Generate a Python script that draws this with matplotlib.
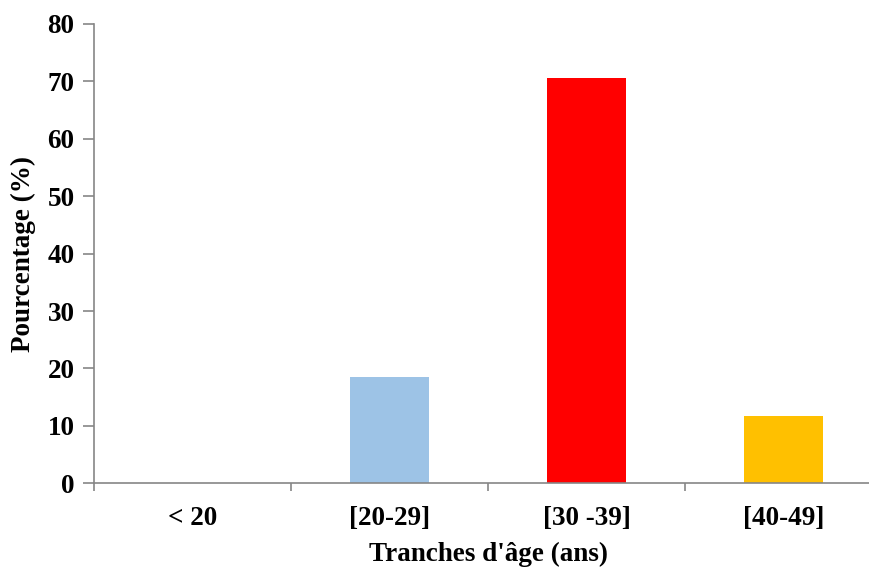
import matplotlib
matplotlib.use("Agg")
import matplotlib.pyplot as plt

# Données
categories = ["< 20", "[20-29]", "[30 -39]", "[40-49]"]
pourcentages = [0, 18.5, 70.6, 11.8]
couleurs = ["#9DC3E6", "#9DC3E6", "#FF0000", "#FFC000"]
y_ticks = [0, 10, 20, 30, 40, 50, 60, 70, 80]

plt.rcParams["font.family"] = ["Liberation Serif", "DejaVu Serif"]
plt.rcParams["font.weight"] = "bold"

fig = plt.figure(figsize=(8.7, 5.68), dpi=100)
ax = fig.add_axes([0.108, 0.149, 0.906, 0.809])

x = range(len(categories))
ax.bar(x, pourcentages, width=0.4, color=couleurs)

ax.set_xlim(-0.5, len(categories) - 0.5)
ax.set_ylim(0, 80)
ax.set_yticks(y_ticks)
ax.set_yticklabels([str(v) for v in y_ticks], fontsize=19.5, fontweight="bold")

# Graduations entre les catégories, étiquettes au centre
ax.set_xticks([i - 0.5 for i in range(len(categories) + 1)])
ax.set_xticklabels([])
ax.set_xticks(list(x), minor=True)
ax.set_xticklabels(categories, minor=True, fontsize=19.5, fontweight="bold")
ax.tick_params(axis="x", which="minor", length=0, pad=16)
ax.tick_params(axis="x", which="major", length=6, color="#868686", width=1.2)
ax.tick_params(axis="y", length=8, color="#868686", width=1.2, pad=6)

for side in ["top", "right"]:
    ax.spines[side].set_visible(False)
for side in ["left", "bottom"]:
    ax.spines[side].set_color("#868686")
    ax.spines[side].set_linewidth(1.2)

ax.set_xlabel("Tranches d'âge (ans)", fontsize=19.5, fontweight="bold", labelpad=8)
ax.set_ylabel("Pourcentage (%)", fontsize=19.5, fontweight="bold", labelpad=8)

fig.savefig("out.png", dpi=100)
